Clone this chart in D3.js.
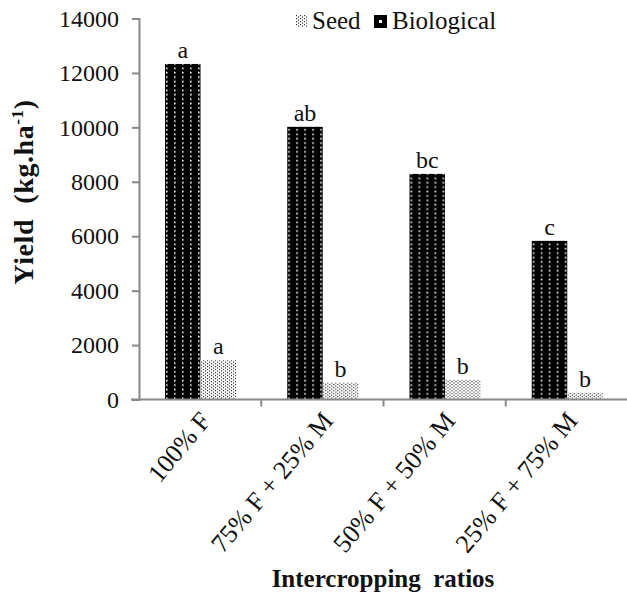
<!DOCTYPE html>
<html>
<head>
<meta charset="utf-8">
<script src="https://cdn.jsdelivr.net/npm/d3@7"></script>
<style>
  body { margin: 0; background: #fff; }
  svg text { font-family: "Liberation Serif", "Times New Roman", serif; fill: #111; }
</style>
</head>
<body>
<div id="chart"></div>
<script>
const categories = ["100% F", "75% F + 25% M", "50% F + 50% M", "25% F + 75% M"];
const seriesNames = ["Biological", "Seed"];
const biological = [12330, 10020, 8290, 5830];
const seed = [1440, 620, 730, 250];
const bioLetters = ["a", "ab", "bc", "c"];
const seedLetters = ["a", "b", "b", "b"];
const yTicks = [0, 2000, 4000, 6000, 8000, 10000, 12000, 14000];

const width = 627, height = 603;
const svg = d3.select("#chart").append("svg")
  .attr("width", width)
  .attr("height", height);

const defs = svg.append("defs");
// black with white dots
const pBio = defs.append("pattern").attr("id", "pBio")
  .attr("patternUnits", "userSpaceOnUse").attr("width", 8).attr("height", 4.4);
pBio.append("rect").attr("width", 8).attr("height", 4.4).attr("fill", "#000");
pBio.append("rect").attr("x", 3).attr("y", 1.5).attr("width", 1.6).attr("height", 1.6).attr("fill", "#fff");
// white with fine black dots
const pSeed = defs.append("pattern").attr("id", "pSeed")
  .attr("patternUnits", "userSpaceOnUse").attr("width", 4).attr("height", 3);
pSeed.append("rect").attr("width", 4).attr("height", 3).attr("fill", "#fff");
pSeed.append("rect").attr("x", 0).attr("y", 0).attr("width", 1.1).attr("height", 1.2).attr("fill", "#333");
pSeed.append("rect").attr("x", 2).attr("y", 1.5).attr("width", 1.1).attr("height", 1.2).attr("fill", "#333");

const x = d3.scaleBand().domain(categories).range([139, 628]);
const xs = d3.scaleBand().domain(seriesNames).range([26, 97]);
const y = d3.scaleLinear().domain([0, 14000]).range([399.5, 18.5]);

const rows = categories.map((c, i) => ({
  cat: c,
  vals: [
    { s: "Biological", v: biological[i], l: bioLetters[i] },
    { s: "Seed", v: seed[i], l: seedLetters[i] }
  ]
}));

const g = svg.append("g").selectAll("g").data(rows).enter().append("g")
  .attr("transform", d => `translate(${x(d.cat)},0)`);

g.selectAll("rect").data(d => d.vals).enter().append("rect")
  .attr("x", d => xs(d.s))
  .attr("y", d => y(d.v))
  .attr("width", xs.bandwidth())
  .attr("height", d => y(0) - y(d.v))
  .attr("fill", d => d.s === "Biological" ? "url(#pBio)" : "url(#pSeed)");

g.selectAll("text.lbl").data(d => d.vals).enter().append("text")
  .attr("class", "lbl")
  .attr("x", d => xs(d.s) + xs.bandwidth() / 2)
  .attr("y", d => y(d.v) - 6)
  .attr("text-anchor", "middle")
  .style("font-size", "24px")
  .text(d => d.l);

// y axis
const yAxis = svg.append("g").attr("transform", "translate(139,0)")
  .call(d3.axisLeft(y).tickValues(yTicks).tickSize(7).tickPadding(13).tickFormat(d3.format("d")));
yAxis.select(".domain").attr("stroke", "#888").attr("stroke-width", 2);
yAxis.selectAll(".tick line").attr("stroke", "#888").attr("stroke-width", 2);
yAxis.selectAll(".tick text").style("font-size", "24px").attr("fill", "#111");

// x axis
svg.append("line").attr("x1", 131).attr("x2", 627).attr("y1", y(0)).attr("y2", y(0))
  .attr("stroke", "#888").attr("stroke-width", 2);
svg.append("g").selectAll("line").data(categories.slice(1)).enter().append("line")
  .attr("x1", d => x(d)).attr("x2", d => x(d))
  .attr("y1", y(0)).attr("y2", y(0) + 7)
  .attr("stroke", "#888").attr("stroke-width", 2);

svg.append("g").selectAll("text").data(categories).enter().append("text")
  .attr("transform", d => `translate(${x(d) + x.bandwidth() / 2 + 5},${y(0) + 16}) rotate(-50)`)
  .attr("text-anchor", "end")
  .attr("dy", "0.35em")
  .style("font-size", "26px")
  .text(d => d);

// axis titles
svg.append("text")
  .attr("x", 383).attr("y", 587)
  .attr("text-anchor", "middle")
  .style("font-size", "25px").style("font-weight", "bold")
  .style("white-space", "pre")
  .text("Intercropping  ratios");

const yt = svg.append("text")
  .attr("transform", "translate(33,192) rotate(-90)")
  .attr("text-anchor", "middle")
  .style("font-size", "28px").style("font-weight", "bold")
  .style("white-space", "pre")
  .style("letter-spacing", "0.6px");
yt.append("tspan").text("Yield  (kg.ha");
yt.append("tspan").attr("dy", -10).style("font-size", "17px").text("-1");
yt.append("tspan").attr("dy", 10).text(")");

// legend
const legend = svg.append("g");
legend.append("rect").attr("x", 296).attr("y", 15).attr("width", 11).attr("height", 12).attr("fill", "url(#pSeed)");
legend.append("text").attr("x", 312).attr("y", 29).style("font-size", "25px").text("Seed");
legend.append("rect").attr("x", 374).attr("y", 15).attr("width", 13).attr("height", 13).attr("fill", "#000");
legend.append("rect").attr("x", 379).attr("y", 20).attr("width", 3).attr("height", 3).attr("fill", "#fff");
legend.append("text").attr("x", 392).attr("y", 29).style("font-size", "25px").text("Biological");
</script>
</body>
</html>
